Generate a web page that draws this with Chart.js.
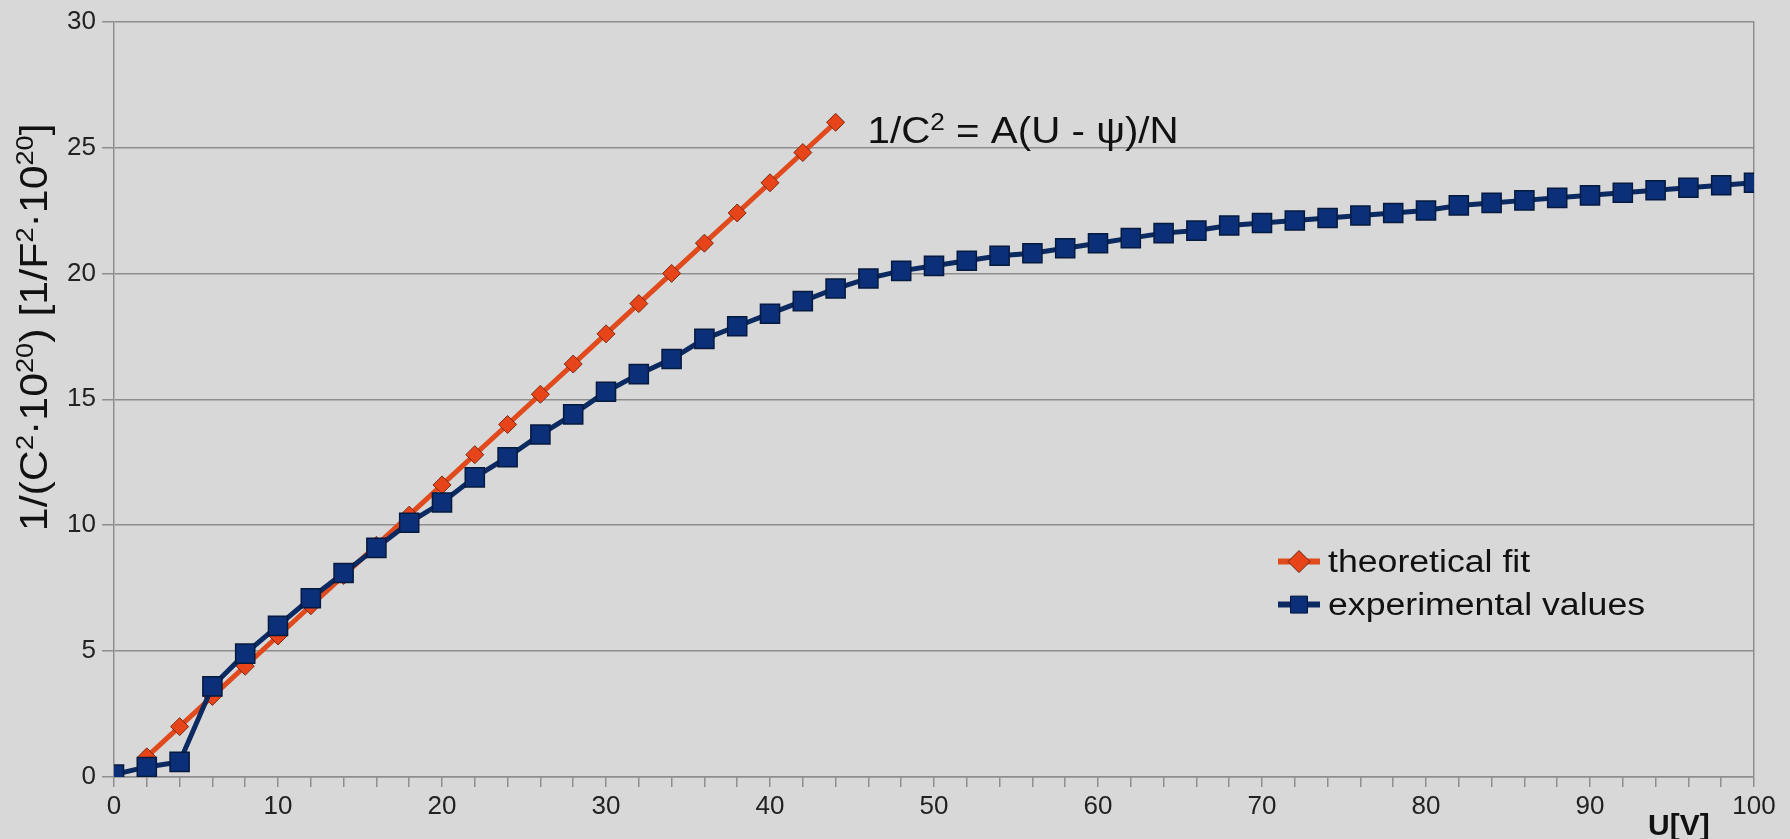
<!DOCTYPE html>
<html>
<head>
<meta charset="utf-8">
<script src="https://cdn.jsdelivr.net/npm/chart.js@4.4.1/dist/chart.umd.min.js"></script>
<style>
  html, body { margin: 0; padding: 0; background: #d8d8d8; overflow: hidden; }
</style>
</head>
<body>
<canvas id="chart" width="1790" height="839"></canvas>
<script>
// U [V] for the fitted straight line and its values
const fitVoltages = [2, 4, 6, 8, 10, 12, 14, 16, 18, 20, 22, 24, 26, 28, 30, 32, 34, 36, 38, 40, 42, 44];
const fitValues = [0.8, 2.0, 3.2, 4.4, 5.6, 6.8, 8.0, 9.2, 10.4, 11.6, 12.8, 14.0, 15.2, 16.4, 17.6, 18.8, 20.0, 21.2, 22.4, 23.6, 24.8, 26.0];

// measured U [V] and 1/C^2 values
const measuredVoltages = [0, 2, 4, 6, 8, 10, 12, 14, 16, 18, 20, 22, 24, 26, 28, 30, 32, 34, 36, 38, 40, 42, 44, 46, 48, 50,
  52, 54, 56, 58, 60, 62, 64, 66, 68, 70, 72, 74, 76, 78, 80, 82, 84, 86, 88, 90, 92, 94, 96, 98, 100];
const measuredValues = [0.1, 0.4, 0.6, 3.6, 4.9, 6.0, 7.1, 8.1, 9.1, 10.1, 10.9, 11.9, 12.7, 13.6, 14.4, 15.3, 16.0, 16.6, 17.4, 17.9, 18.4, 18.9, 19.4, 19.8, 20.1, 20.3,
  20.5, 20.7, 20.8, 21.0, 21.2, 21.4, 21.6, 21.7, 21.9, 22.0, 22.1, 22.2, 22.3, 22.4, 22.5, 22.7, 22.8, 22.9, 23.0, 23.1, 23.2, 23.3, 23.4, 23.5, 23.6];

const xLabelledTicks = [0, 10, 20, 30, 40, 50, 60, 70, 80, 90, 100];
const seriesNames = ['theoretical fit', 'experimental values'];

const GRID = '#8e8e8e';
const FIT_LINE = '#e04a1c';
const FIT_POINT = '#e8441a';
const EXP_LINE = '#0c2a62';
const EXP_POINT = '#0b2f78';
const FONT = '"Liberation Sans", Arial, sans-serif';
const STRETCH = 1.13; // the original text is a bit wider than Liberation Sans

// text with superscript parts: [text, isSup]
function runsWidth(ctx, runs, size) {
  let w = 0;
  runs.forEach(([t, sup]) => {
    ctx.font = (sup ? Math.round(size * 0.64) : size) + 'px ' + FONT;
    w += ctx.measureText(t).width;
  });
  return w;
}
function drawRuns(ctx, runs, x, y, size, sx) {
  ctx.save();
  ctx.translate(x, y);
  ctx.scale(sx, 1);
  let cx = 0;
  runs.forEach(([t, sup]) => {
    ctx.font = (sup ? Math.round(size * 0.64) : size) + 'px ' + FONT;
    ctx.fillText(t, cx, sup ? -size * 0.36 : 0);
    cx += ctx.measureText(t).width;
  });
  ctx.restore();
}

const annotationRuns = [['1/C', false], ['2', true], [' = A(U - \u03C8)/N', false]];
const yTitleRuns = [['1/(C', false], ['2', true], ['\u00B710', false], ['20', true], [') [1/F', false], ['2', true], ['\u00B710', false], ['20', true], [']', false]];

const extras = {
  id: 'extras',
  afterDraw(chart) {
    const ctx = chart.ctx;
    const area = chart.chartArea;
    ctx.save();
    ctx.fillStyle = '#111';
    ctx.textAlign = 'left';
    ctx.textBaseline = 'alphabetic';

    // formula next to the last fitted point
    const fitMeta = chart.getDatasetMeta(0);
    const last = fitMeta.data[fitMeta.data.length - 1];
    drawRuns(ctx, annotationRuns, last.x + 32, last.y + 21, 37, 1.09);

    // y axis title
    ctx.save();
    ctx.translate(47, (area.top + area.bottom) / 2 - 72);
    ctx.rotate(-Math.PI / 2);
    const tw = runsWidth(ctx, yTitleRuns, 38) * STRETCH;
    drawRuns(ctx, yTitleRuns, -tw / 2, 0, 38, STRETCH);
    ctx.restore();

    // x axis title
    ctx.font = 'bold 30px ' + FONT;
    ctx.fillText('U[V]', area.right - 106, chart.height - 4);

    // legend
    const lx = area.right - 476;
    const rows = [
      { y: area.top + 540, line: FIT_LINE, fill: FIT_POINT, border: '#6a2410', style: 'rectRot', r: 11, lw: 6 },
      { y: area.top + 583, line: EXP_LINE, fill: EXP_POINT, border: '#041638', style: 'rect', r: 12, lw: 6 }
    ];
    rows.forEach((row, i) => {
      ctx.strokeStyle = row.line;
      ctx.lineWidth = row.lw;
      ctx.beginPath();
      ctx.moveTo(lx, row.y);
      ctx.lineTo(lx + 42, row.y);
      ctx.stroke();
      ctx.fillStyle = row.fill;
      ctx.strokeStyle = row.border;
      ctx.lineWidth = 1;
      Chart.helpers.drawPoint(ctx, { pointStyle: row.style, radius: row.r, rotation: 0, borderWidth: 1 }, lx + 21, row.y);
      ctx.fillStyle = '#111';
      ctx.textBaseline = 'middle';
      drawRuns(ctx, [[seriesNames[i], false]], lx + 50, row.y + 2, 31, 1.15);
    });
    ctx.restore();
  }
};

new Chart(document.getElementById('chart'), {
  type: 'line',
  data: {
    datasets: [
      {
        label: seriesNames[0],
        data: fitVoltages.map((u, i) => ({ x: u, y: fitValues[i] })),
        borderColor: FIT_LINE,
        borderWidth: 5,
        backgroundColor: FIT_POINT,
        pointStyle: 'rectRot',
        pointRadius: 9,
        pointBorderColor: '#7a2a12',
        pointBorderWidth: 1,
        tension: 0,
        order: 1
      },
      {
        label: seriesNames[1],
        data: measuredVoltages.map((u, i) => ({ x: u, y: measuredValues[i] })),
        borderColor: EXP_LINE,
        borderWidth: 5,
        backgroundColor: EXP_POINT,
        pointStyle: 'rect',
        pointRadius: 13.5,
        pointBorderColor: '#051a3e',
        pointBorderWidth: 1.5,
        tension: 0,
        order: 0
      }
    ]
  },
  options: {
    responsive: false,
    animation: false,
    devicePixelRatio: 1,
    layout: { padding: { top: 20, right: 36, left: 0, bottom: 0 } },
    plugins: {
      legend: { display: false },
      tooltip: { enabled: false }
    },
    scales: {
      x: {
        type: 'linear',
        min: 0,
        max: 100,
        afterFit: scale => { scale.height = 62; },
        border: { color: GRID, width: 1.5 },
        grid: {
          color: c => (c.tick && c.tick.value === 100 ? GRID : 'rgba(0,0,0,0)'),
          tickColor: GRID,
          tickLength: 10,
          lineWidth: 1.5
        },
        ticks: {
          stepSize: 2,
          autoSkip: false,
          maxRotation: 0,
          padding: 4,
          color: '#222',
          font: { family: FONT, size: 26 },
          callback: v => (xLabelledTicks.includes(Math.round(v)) ? String(Math.round(v)) : '')
        }
      },
      y: {
        min: 0,
        max: 30,
        afterFit: scale => { scale.width = 114; },
        border: { color: GRID, width: 1.5 },
        grid: { color: GRID, tickColor: GRID, tickLength: 12, lineWidth: 1.5 },
        ticks: {
          stepSize: 5,
          padding: 6,
          color: '#222',
          font: { family: FONT, size: 26 }
        }
      }
    }
  },
  plugins: [extras]
});
</script>
</body>
</html>
